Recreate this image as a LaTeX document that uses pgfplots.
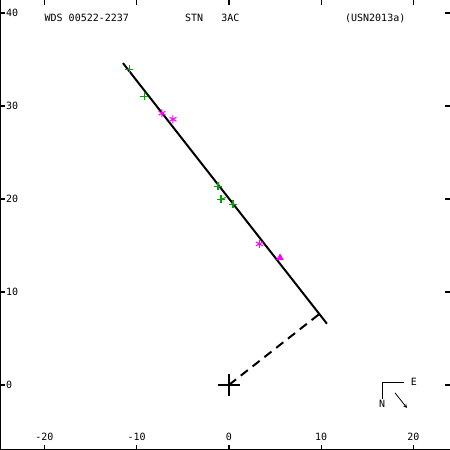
\documentclass[border=0pt]{standalone}
\usepackage{fontspec}
\setmainfont{DejaVu Sans Mono}
\usepackage{pgfplots}
\pgfplotsset{compat=1.18}
\definecolor{obsgreen}{RGB}{0,160,0}
\definecolor{obsmag}{RGB}{255,0,255}
\begin{document}
\fontsize{10bp}{12bp}\selectfont
\begin{tikzpicture}
\begin{axis}[
 width=450bp, height=450bp, scale only axis,
 xmin=-24.82, xmax=23.96, ymin=-7.0, ymax=41.4,
 axis line style={draw=none},
 xtick={-20,-10,0,10,20}, ytick={0,10,20,30,40},
 tick align=inside, major tick length=5bp,
 tick style={black, line width=1.2bp},
 /pgf/number format/assume math mode=true,
 ticklabel style={font=\fontsize{10bp}{12bp}\selectfont, inner sep=0pt},
 xticklabel style={anchor=base, yshift=10bp},
 yticklabel style={anchor=west, xshift=6bp},
 clip=false,
]
% orbit line
\addplot[black, line width=2bp] coordinates {(-11.49,34.61) (10.62,6.58)};
% dashed line of nodes / periastron
\addplot[black, line width=2bp, dash pattern=on 9bp off 6bp] coordinates {(0,0) (9.7,7.55)};
% residual
\addplot[obsgreen, line width=1bp] coordinates {(-0.87,19.96) (-0.35,20.15)};
% observations green
\addplot[only marks, mark=+, mark size=4bp, obsgreen, mark options={line width=1.2bp}] coordinates {
(-10.81,33.96) (-9.18,31.06) (-1.19,21.36) (-0.87,19.96) (0.43,19.42)};
% magenta asterisks
\addplot[only marks, mark=asterisk, mark size=4bp, obsmag, mark options={line width=1bp}] coordinates {
(-7.26,29.22) (-6.07,28.57) (3.29,15.17)};
% magenta triangle
\addplot[only marks, mark=triangle*, mark size=4bp, obsmag] coordinates {(5.53,13.66)};
% primary
\addplot[only marks, mark=+, mark size=11bp, black, mark options={line width=2bp}] coordinates {(0,0)};
% axes lines
\draw[black, line width=2bp] (rel axis cs:0,1) -- (rel axis cs:0,0) -- (rel axis cs:1,0);
% header texts
\node[anchor=base west, inner sep=0pt] at (axis cs:-20,39.08) {WDS 00522-2237};
\node[anchor=base west, inner sep=0pt] at (axis cs:-4.77,39.08) {STN\ \ \ 3AC};
\node[anchor=base west, inner sep=0pt] at (axis cs:12.57,39.08) {(USN2013a)};
% compass
\draw[black, line width=1bp] (axis cs:18.97,0.22) -- (axis cs:16.69,0.22) -- (axis cs:16.69,-1.51);
\node[anchor=west, inner sep=0pt] at (axis cs:19.7,0.3) {E};
\node[anchor=north, inner sep=0pt] at (axis cs:16.6,-1.6) {N};
\draw[black, line width=0.8bp, -stealth] (axis cs:18.0,-0.86) -- (axis cs:19.3,-2.48);
\end{axis}
\pgfresetboundingbox
\path (current axis.south west) rectangle (current axis.north east);
\end{tikzpicture}
\end{document}
